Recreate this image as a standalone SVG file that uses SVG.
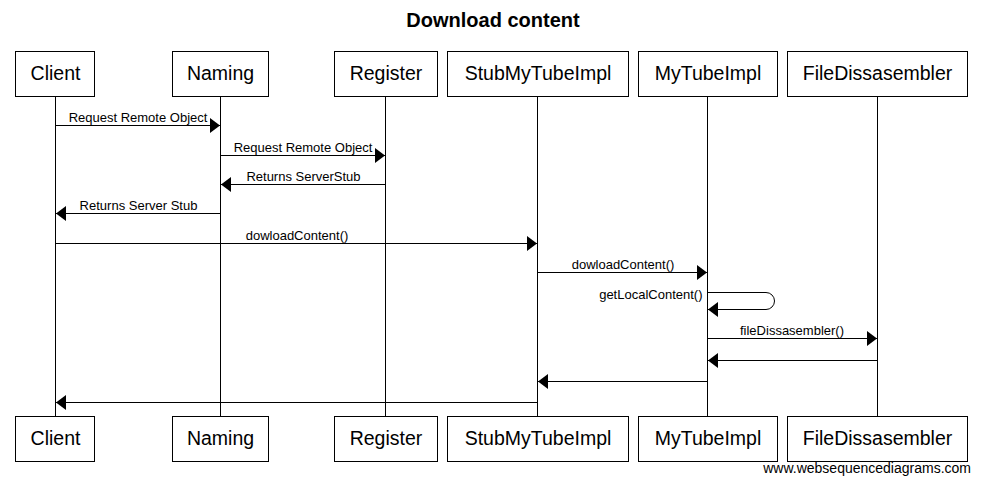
<svg xmlns="http://www.w3.org/2000/svg" width="981" height="485" viewBox="0 0 981 485">
<style>
  .box { fill: #fff; stroke: #000; stroke-width: 1; }
  .pt { font-family: "Liberation Sans", Arial, sans-serif; font-size: 19.5px; text-anchor: middle; fill: #000; }
  .life { stroke: #000; stroke-width: 1; fill: none; }
  .msg { stroke: #000; stroke-width: 1; fill: none; marker-end: url(#ah); }
  .lbl { font-family: "Liberation Sans", Arial, sans-serif; font-size: 13px; text-anchor: middle; fill: #000; }
  .title { font-family: "Liberation Sans", Arial, sans-serif; font-size: 20px; font-weight: bold; text-anchor: middle; fill: #000; }
  .wm { font-family: "Liberation Sans", Arial, sans-serif; font-size: 14px; text-anchor: end; fill: #000; }
</style>
<defs>
  <marker id="ah" markerUnits="userSpaceOnUse" markerWidth="10" markerHeight="15" refX="10" refY="7.5" orient="auto" overflow="visible">
    <path d="M0,0 L10,7.5 L0,15 Z" fill="#000"/>
  </marker>
</defs>
<rect width="981" height="485" fill="#fff"/>
<text class="title" x="493" y="27">Download content</text>

<g id="lifelines">
  <line class="life" x1="55.5" y1="96" x2="55.5" y2="416"/>
  <line class="life" x1="220.5" y1="96" x2="220.5" y2="416"/>
  <line class="life" x1="385.5" y1="96" x2="385.5" y2="416"/>
  <line class="life" x1="537.5" y1="96" x2="537.5" y2="416"/>
  <line class="life" x1="707.5" y1="96" x2="707.5" y2="416"/>
  <line class="life" x1="877.5" y1="96" x2="877.5" y2="416"/>
</g>

<g id="Client">
  <rect class="box" x="15.5" y="51.5" width="79" height="45"/>
  <text class="pt" x="55.5" y="80">Client</text>
  <rect class="box" x="15.5" y="416.5" width="79" height="45"/>
  <text class="pt" x="55.5" y="445">Client</text>
</g>
<g id="Naming">
  <rect class="box" x="172.5" y="51.5" width="96" height="45"/>
  <text class="pt" x="220.5" y="80">Naming</text>
  <rect class="box" x="172.5" y="416.5" width="96" height="45"/>
  <text class="pt" x="220.5" y="445">Naming</text>
</g>
<g id="Register">
  <rect class="box" x="334.5" y="51.5" width="103" height="45"/>
  <text class="pt" x="386" y="80">Register</text>
  <rect class="box" x="334.5" y="416.5" width="103" height="45"/>
  <text class="pt" x="386" y="445">Register</text>
</g>
<g id="StubMyTubeImpl">
  <rect class="box" x="447.5" y="51.5" width="181" height="45"/>
  <text class="pt" x="538" y="80">StubMyTubeImpl</text>
  <rect class="box" x="447.5" y="416.5" width="181" height="45"/>
  <text class="pt" x="538" y="445">StubMyTubeImpl</text>
</g>
<g id="MyTubeImpl">
  <rect class="box" x="638.5" y="51.5" width="139" height="45"/>
  <text class="pt" x="708" y="80">MyTubeImpl</text>
  <rect class="box" x="638.5" y="416.5" width="139" height="45"/>
  <text class="pt" x="708" y="445">MyTubeImpl</text>
</g>
<g id="FileDissasembler">
  <rect class="box" x="787.5" y="51.5" width="180" height="45"/>
  <text class="pt" x="877.5" y="80">FileDissasembler</text>
  <rect class="box" x="787.5" y="416.5" width="180" height="45"/>
  <text class="pt" x="877.5" y="445">FileDissasembler</text>
</g>

<g id="connectors">
  <line class="msg" x1="55.5" y1="125.5" x2="220" y2="125.5"/>
  <text class="lbl" x="138" y="122">Request Remote Object</text>

  <line class="msg" x1="220.5" y1="155.5" x2="385" y2="155.5"/>
  <text class="lbl" x="303" y="152">Request Remote Object</text>

  <line class="msg" x1="385.5" y1="184.5" x2="221" y2="184.5"/>
  <text class="lbl" x="303.5" y="181">Returns ServerStub</text>

  <line class="msg" x1="220.5" y1="213.5" x2="56" y2="213.5"/>
  <text class="lbl" x="138.5" y="210">Returns Server Stub</text>

  <line class="msg" x1="55.5" y1="243.5" x2="537" y2="243.5"/>
  <text class="lbl" x="297" y="240">dowloadContent()</text>

  <line class="msg" x1="537.5" y1="272.5" x2="707" y2="272.5"/>
  <text class="lbl" x="623" y="269">dowloadContent()</text>

  <path class="msg" d="M707.5,292.5 H766 A8.5,8.5 0 0 1 766,309.5 H708"/>
  <text class="lbl" x="702.5" y="299" style="text-anchor:end">getLocalContent()</text>

  <line class="msg" x1="707.5" y1="338.5" x2="877" y2="338.5"/>
  <text class="lbl" x="792" y="335">fileDissasembler()</text>

  <line class="msg" x1="877.5" y1="360.5" x2="708" y2="360.5"/>

  <line class="msg" x1="707.5" y1="381.5" x2="538" y2="381.5"/>

  <line class="msg" x1="537.5" y1="402.5" x2="56" y2="402.5"/>
</g>

<text class="wm" x="971" y="473">www.websequencediagrams.com</text>
</svg>
